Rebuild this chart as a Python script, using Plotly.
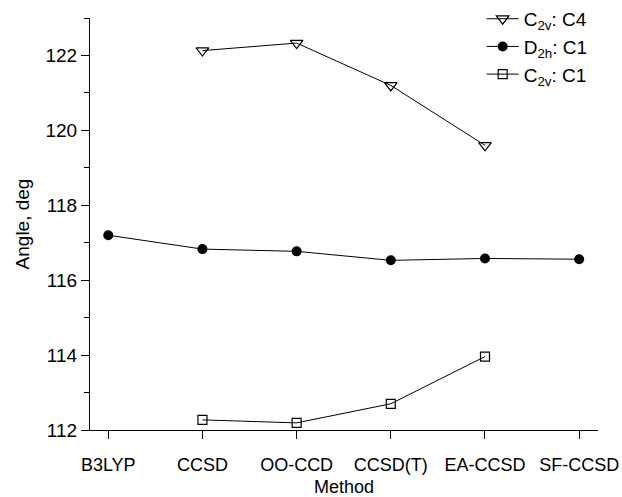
import plotly.graph_objects as go

# Methods along the x axis
methods = ["B3LYP", "CCSD", "OO-CCD", "CCSD(T)", "EA-CCSD", "SF-CCSD"]

# C2v: C4 structure (available methods only)
c4_methods = ["CCSD", "OO-CCD", "CCSD(T)", "EA-CCSD"]
c4_angle = [122.13, 122.33, 121.20, 119.60]

# D2h: C1 structure
d2h_methods = ["B3LYP", "CCSD", "OO-CCD", "CCSD(T)", "EA-CCSD", "SF-CCSD"]
d2h_angle = [117.20, 116.83, 116.77, 116.53, 116.58, 116.56]

# C2v: C1 structure
c1_methods = ["CCSD", "OO-CCD", "CCSD(T)", "EA-CCSD"]
c1_angle = [112.27, 112.19, 112.70, 113.96]

y_ticks = [112, 114, 116, 118, 120, 122]

FONT = "Liberation Sans, Arial, sans-serif"

fig = go.Figure()

fig.add_trace(go.Scatter(
    x=c4_methods, y=c4_angle, mode="lines+markers",
    name="C<sub>2v</sub>: C4", legendgroup="a",
    line=dict(color="black", width=1),
    marker=dict(symbol="triangle-down-open", size=11, color="black",
                line=dict(width=1.2, color="black")),
))
fig.add_trace(go.Scatter(
    x=d2h_methods, y=d2h_angle, mode="lines+markers",
    name="D<sub>2h</sub>: C1", legendgroup="b",
    line=dict(color="black", width=1),
    marker=dict(symbol="circle", size=10, color="black"),
))
fig.add_trace(go.Scatter(
    x=c1_methods, y=c1_angle, mode="lines+markers",
    name="C<sub>2v</sub>: C1", legendgroup="c",
    line=dict(color="black", width=1),
    marker=dict(symbol="square-open", size=9, color="black",
                line=dict(width=1.2, color="black")),
))

fig.update_layout(
    width=622, height=497,
    margin=dict(l=90, r=24, t=18, b=67, autoexpand=False),
    paper_bgcolor="white", plot_bgcolor="white",
    font=dict(family=FONT, size=18, color="black"),
    showlegend=True,
    legend=dict(x=0.771, y=1.044, xanchor="left", yanchor="top",
                bgcolor="rgba(0,0,0,0)", font=dict(size=19),
                itemwidth=32, tracegroupgap=1, traceorder="normal"),
)

fig.update_xaxes(
    type="category", categoryorder="array", categoryarray=methods,
    range=[-0.194, 5.2], automargin=False,
    showline=True, linecolor="black", linewidth=1.2,
    ticks="outside", ticklen=8, tickwidth=1.2, tickcolor="black",
    ticklabelstandoff=10,
    showgrid=False, zeroline=False,
    title=dict(text="Method", standoff=8, font=dict(size=18)),
    tickfont=dict(size=18),
)
fig.update_yaxes(
    range=[112, 123], tickvals=y_ticks, automargin=False,
    showline=True, linecolor="black", linewidth=1.2,
    ticks="outside", ticklen=8, tickwidth=1.2, tickcolor="black",
    minor=dict(ticks="outside", ticklen=5, tickwidth=1.2, tickcolor="black", dtick=1, tick0=112),
    showgrid=False, zeroline=False,
    title=dict(text="Angle, deg", standoff=10, font=dict(size=19)),
    tickfont=dict(size=19),
)

fig.write_html("out.html")
